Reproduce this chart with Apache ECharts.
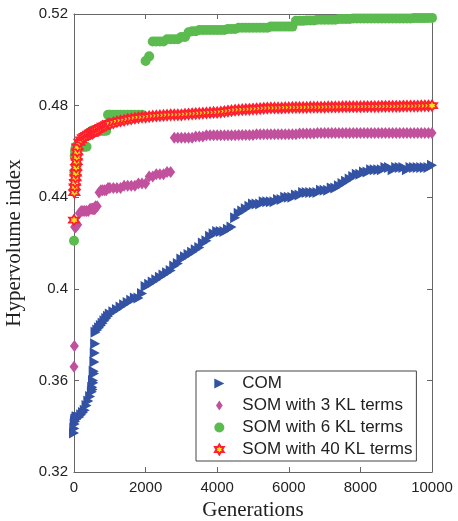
<!DOCTYPE html>
<html lang="en">
<head>
    <meta charset="UTF-8">
    <title>Hypervolume index</title>
    <style type="text/css">
        html, body { margin: 0; padding: 0; background: #fff; }
        #main { width: 458px; height: 521px; }
    </style>
</head>
<body>
<div id="main"></div>
<script type="text/javascript" src="https://cdn.jsdelivr.net/npm/echarts@6/dist/echarts.min.js"></script>
<script type="text/javascript">
    // generations
    var gens = [
        0, 10, 20, 30, 40, 50, 60, 70, 80, 90, 100,
        150, 200, 250, 300, 350, 400, 450,
        500, 510, 520, 530, 540, 550, 560, 570, 580, 590, 600,
        650, 700, 750, 800, 850, 900, 950, 1000,
        1100, 1200, 1300, 1400, 1500, 1600, 1700, 1800, 1900, 2000,
        2100, 2200, 2300, 2400, 2500, 2600, 2700, 2800, 2900, 3000,
        3100, 3200, 3300, 3400, 3500, 3600, 3700, 3800, 3900, 4000,
        4100, 4200, 4300, 4400, 4500, 4600, 4700, 4800, 4900, 5000,
        5100, 5200, 5300, 5400, 5500, 5600, 5700, 5800, 5900, 6000,
        6100, 6200, 6300, 6400, 6500, 6600, 6700, 6800, 6900, 7000,
        7100, 7200, 7300, 7400, 7500, 7600, 7700, 7800, 7900, 8000,
        8100, 8200, 8300, 8400, 8500, 8600, 8700, 8800, 8900, 9000,
        9100, 9200, 9300, 9400, 9500, 9600, 9700, 9800, 9900, 10000
    ];
    var com = [
        0.337, 0.339, 0.341, 0.342, 0.343, 0.343, 0.343, 0.344, 0.344, 0.344, 0.344,
        0.344, 0.345, 0.346, 0.347, 0.349, 0.351, 0.353,
        0.355, 0.357, 0.356, 0.360, 0.359, 0.364, 0.363, 0.368, 0.372, 0.376, 0.381,
        0.382, 0.383, 0.384, 0.385, 0.386, 0.387, 0.388, 0.389,
        0.390, 0.391, 0.392, 0.393, 0.394, 0.395, 0.396, 0.396, 0.398, 0.401,
        0.402, 0.403, 0.404, 0.405, 0.406, 0.407, 0.408, 0.410, 0.411, 0.413,
        0.414, 0.415, 0.416, 0.417, 0.418, 0.420, 0.421, 0.423, 0.424, 0.425,
        0.425, 0.425, 0.426, 0.427, 0.431, 0.433, 0.434, 0.435, 0.436, 0.437,
        0.437, 0.437, 0.438, 0.438, 0.438, 0.438, 0.439, 0.439, 0.440, 0.440,
        0.440, 0.441, 0.441, 0.442, 0.442, 0.442, 0.442, 0.442, 0.443, 0.443,
        0.443, 0.444, 0.444, 0.445, 0.446, 0.447, 0.448, 0.449, 0.450, 0.450,
        0.451, 0.451, 0.452, 0.452, 0.452, 0.452, 0.453, 0.453, 0.452, 0.453,
        0.453, 0.453, 0.452, 0.453, 0.453, 0.453, 0.453, 0.453, 0.453, 0.454
    ];
    var som3 = [
        0.366, 0.375, 0.427, 0.427, 0.427, 0.427, 0.428, 0.428, 0.428, 0.428, 0.428,
        0.433, 0.434, 0.434, 0.434, 0.434, 0.434, 0.435,
        0.435, 0.435, 0.435, 0.435, 0.435, 0.435, 0.435, 0.435, 0.435, 0.435, 0.436,
        0.436, 0.442, 0.443, 0.443, 0.443, 0.443, 0.444, 0.444,
        0.444, 0.444, 0.444, 0.445, 0.445, 0.445, 0.445, 0.446, 0.446, 0.446,
        0.449, 0.449, 0.450, 0.450, 0.450, 0.451, 0.451, 0.466, 0.466, 0.466,
        0.466, 0.466, 0.466, 0.4665, 0.4665, 0.4665, 0.467, 0.467, 0.467, 0.467,
        0.467, 0.467, 0.467, 0.467, 0.467, 0.4672, 0.4672, 0.4672, 0.4672, 0.4672,
        0.4675, 0.4675, 0.4675, 0.4675, 0.4675, 0.4675, 0.4675, 0.4675, 0.4675, 0.4675,
        0.4675, 0.4675, 0.4678, 0.4678, 0.4678, 0.4678, 0.4678, 0.468, 0.468, 0.468,
        0.468, 0.468, 0.468, 0.468, 0.468, 0.468, 0.468, 0.468, 0.468, 0.468,
        0.468, 0.468, 0.468, 0.468, 0.468, 0.468, 0.468, 0.468, 0.468, 0.468,
        0.468, 0.468, 0.468, 0.468, 0.468, 0.468, 0.468, 0.468, 0.468, 0.468
    ];
    var som6 = [
        0.421, 0.451, 0.458, 0.460, 0.461, 0.462, 0.462, 0.462, 0.462, 0.462, 0.462,
        0.462, 0.462, 0.462, 0.462, 0.462, 0.468, 0.468,
        0.469, 0.469, 0.469, 0.469, 0.469, 0.469, 0.469, 0.469, 0.469, 0.469, 0.469,
        0.469, 0.469, 0.469, 0.469, 0.469, 0.469, 0.476, 0.476,
        0.476, 0.476, 0.476, 0.476, 0.476, 0.476, 0.476, 0.476, 0.476, 0.4995,
        0.5015, 0.508, 0.508, 0.508, 0.508, 0.509, 0.509, 0.509, 0.509, 0.510,
        0.510, 0.512, 0.5125, 0.5125, 0.513, 0.513, 0.513, 0.513, 0.513, 0.513,
        0.513, 0.513, 0.5135, 0.5135, 0.5135, 0.514, 0.514, 0.514, 0.514, 0.514,
        0.514, 0.514, 0.514, 0.514, 0.5145, 0.5145, 0.5145, 0.5145, 0.5145, 0.5145,
        0.5145, 0.517, 0.517, 0.517, 0.5172, 0.5172, 0.5172, 0.5175, 0.5175, 0.5175,
        0.5175, 0.5175, 0.5175, 0.5178, 0.5178, 0.5178, 0.5178, 0.518, 0.518, 0.518,
        0.518, 0.518, 0.518, 0.518, 0.518, 0.518, 0.518, 0.518, 0.518, 0.518,
        0.518, 0.518, 0.518, 0.518, 0.5182, 0.5182, 0.5182, 0.5182, 0.5183, 0.5183
    ];
    var som40 = [
        0.430, 0.442, 0.4445, 0.4465, 0.4485, 0.4505, 0.453, 0.4555, 0.4575, 0.4598, 0.462,
        0.464, 0.465, 0.466, 0.4665, 0.467, 0.4675, 0.468,
        0.468, 0.468, 0.468, 0.4685, 0.4685, 0.4685, 0.4685, 0.469, 0.469, 0.469, 0.469,
        0.4695, 0.470, 0.4705, 0.471, 0.471, 0.4715, 0.472, 0.472,
        0.4725, 0.473, 0.4733, 0.4736, 0.474, 0.4742, 0.4745, 0.4748, 0.475, 0.475,
        0.4752, 0.4754, 0.4755, 0.4756, 0.4757, 0.4758, 0.476, 0.476, 0.476, 0.476,
        0.4762, 0.4763, 0.4764, 0.4765, 0.4766, 0.4767, 0.4768, 0.4769, 0.477, 0.477,
        0.4772, 0.4774, 0.4776, 0.4778, 0.478, 0.4781, 0.4782, 0.4783, 0.4784, 0.4785,
        0.4786, 0.4787, 0.4788, 0.4789, 0.479, 0.479, 0.479, 0.479, 0.4791, 0.4791,
        0.4792, 0.4792, 0.4792, 0.4792, 0.4792, 0.4793, 0.4793, 0.4793, 0.4793, 0.4793,
        0.4794, 0.4794, 0.4794, 0.4794, 0.4795, 0.4795, 0.4795, 0.4795, 0.4795, 0.4795,
        0.4796, 0.4796, 0.4796, 0.4796, 0.4796, 0.4797, 0.4797, 0.4797, 0.4797, 0.4797,
        0.4797, 0.4798, 0.4798, 0.4798, 0.4798, 0.4798, 0.4799, 0.4799, 0.4799, 0.480
    ];
    var names = ['COM', 'SOM with 3 KL terms', 'SOM with 6 KL terms', 'SOM with 40 KL terms'];

    var triRight = 'path://M0,0L10,5L0,10Z';
    var diamond = 'path://M4,0L8,6L4,12L0,6Z';
    var hexagram = 'path://M10,0L12.89,5L18.66,5L15.77,10L18.66,15L12.89,15L10,20L7.11,15L1.34,15L4.23,10L1.34,5L7.11,5Z';

    function pairs(vals) {
        return vals.map(function (v, i) { return [gens[i], v]; });
    }

    var axisColor = '#666';
    var labelFont = { fontFamily: 'Liberation Sans', fontSize: 15, color: '#222' };
    var nameFont = { fontFamily: 'Liberation Serif', fontSize: 21, color: '#222' };

    function baseAxis(extra) {
        var a = {
            type: 'value',
            axisLine: { show: true, onZero: false, lineStyle: { color: axisColor, width: 1 } },
            axisTick: { show: true, inside: true, length: 5, lineStyle: { color: axisColor } },
            splitLine: { show: false }
        };
        for (var k in extra) a[k] = extra[k];
        return a;
    }

    var myChart = echarts.init(document.getElementById('main'));
    var option = {
        animation: false,
        backgroundColor: '#fff',
        grid: { left: 74, right: 26, top: 14, bottom: 49, containLabel: false, outerBoundsMode: 'none' },
        xAxis: [
            baseAxis({
                min: 0, max: 10000, interval: 2000,
                axisLabel: Object.assign({
                    margin: 8,
                    formatter: function (v) { return String(v); }
                }, labelFont),
                name: 'Generations', nameLocation: 'middle', nameGap: 27,
                nameTextStyle: nameFont
            }),
            baseAxis({ position: 'top', min: 0, max: 10000, interval: 2000, axisLabel: { show: false } })
        ],
        yAxis: [
            baseAxis({
                min: 0.32, max: 0.52, interval: 0.04,
                axisLabel: Object.assign({
                    margin: 6,
                    formatter: function (v) { return String(+v.toFixed(2)); }
                }, labelFont),
                name: 'Hypervolume index', nameLocation: 'middle', nameGap: 49,
                nameTextStyle: nameFont
            }),
            baseAxis({ position: 'right', min: 0.32, max: 0.52, interval: 0.04, axisLabel: { show: false } })
        ],
        legend: {
            data: names,
            orient: 'vertical',
            left: 196, top: 371,
            padding: [4, 4, 3, 18],
            itemWidth: 10, itemHeight: 10, itemGap: 5,
            backgroundColor: '#fff',
            borderColor: '#444', borderWidth: 1, borderRadius: 0,
            textStyle: { fontFamily: 'Liberation Sans', fontSize: 17, color: '#222', padding: [0, 0, 0, 13] },
            z: 10
        },
        series: [
            {
                name: names[0], type: 'scatter', data: pairs(com),
                symbol: triRight, symbolSize: [10, 11],
                itemStyle: { color: '#3352A4', opacity: 1 }
            },
            {
                name: names[1], type: 'scatter', data: pairs(som3),
                symbol: diamond, symbolSize: [9, 12],
                itemStyle: { color: '#C2519D', opacity: 1 }
            },
            {
                name: names[2], type: 'scatter', data: pairs(som6),
                symbol: 'circle', symbolSize: 10,
                itemStyle: { color: '#5BBB4F', opacity: 1 }
            },
            {
                name: names[3], type: 'scatter', data: pairs(som40),
                symbol: hexagram, symbolSize: 10,
                itemStyle: { color: '#FFE21A', borderColor: '#FF1F2F', borderWidth: 1.8, opacity: 1 }
            }
        ]
    };
    myChart.setOption(option);
</script>
</body>
</html>
